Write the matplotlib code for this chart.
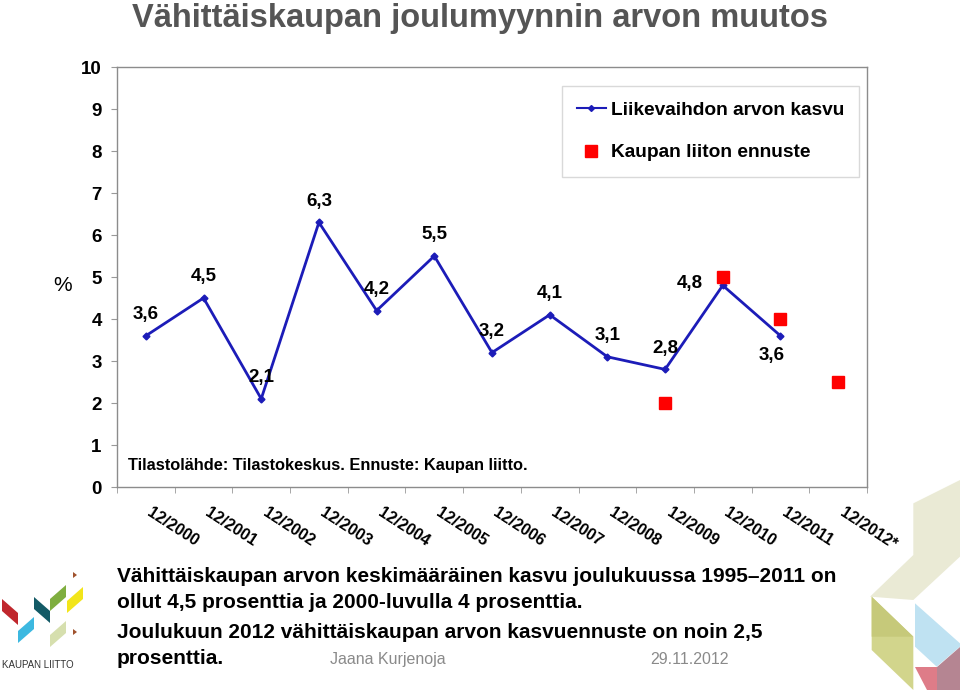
import matplotlib
matplotlib.use('Agg')
import matplotlib.pyplot as plt
from matplotlib.patches import Polygon
from matplotlib.lines import Line2D
from matplotlib import font_manager
import matplotlib.transforms as mtransforms

# ---------------- data ----------------
categories = ['12/2000', '12/2001', '12/2002', '12/2003', '12/2004', '12/2005',
              '12/2006', '12/2007', '12/2008', '12/2009', '12/2010', '12/2011',
              '12/2012*']
growth_cats = categories[:12]
growth = [3.6, 4.5, 2.1, 6.3, 4.2, 5.5, 3.2, 4.1, 3.1, 2.8, 4.8, 3.6]
growth_labels = ['3,6', '4,5', '2,1', '6,3', '4,2', '5,5', '3,2', '4,1', '3,1',
                 '2,8', '4,8', '3,6']
forecast_cats = ['12/2009', '12/2010', '12/2011', '12/2012*']
forecast = [2.0, 5.0, 4.0, 2.5]
yticks = [0, 1, 2, 3, 4, 5, 6, 7, 8, 9, 10]
series_names = ['Liikevaihdon arvon kasvu', 'Kaupan liiton ennuste']

title = 'Vähittäiskaupan joulumyynnin arvon muutos'
source = 'Tilastolähde: Tilastokeskus. Ennuste: Kaupan liitto.'
notes = ['Vähittäiskaupan arvon keskimääräinen kasvu joulukuussa 1995\u20132011 on',
         'ollut 4,5 prosenttia ja 2000-luvulla 4 prosenttia.',
         'Joulukuun 2012 vähittäiskaupan arvon kasvuennuste on noin 2,5',
         'prosenttia.']
author = 'Jaana Kurjenoja'
date = '29.11.2012'

# ---------------- style ----------------
names = {f.name for f in font_manager.fontManager.ttflist}
FONT = 'Liberation Sans' if 'Liberation Sans' in names else 'DejaVu Sans'
NARROW = 'Liberation Sans Narrow' if 'Liberation Sans Narrow' in names else FONT
plt.rcParams['font.family'] = [FONT, 'DejaVu Sans']

W, H = 960, 690
fig = plt.figure(figsize=(W / 100, H / 100), dpi=100)

# decoration layer (pixel coordinates, y downward)
deco = fig.add_axes([0, 0, 1, 1], zorder=0)
deco.set_xlim(0, W)
deco.set_ylim(H, 0)
deco.axis('off')


def zpoly(pts, color, x0=860, y0=480, s=3.0):
    deco.add_patch(Polygon([(x0 + x / s, y0 + y / s) for x, y in pts],
                           closed=True, facecolor=color, edgecolor='none'))


# right-hand decoration
zpoly([(160, 70), (300, 0), (300, 230), (160, 360), (30, 350), (160, 225)], '#eaead5')
zpoly([(35, 350), (160, 470), (160, 630), (35, 510)], '#d2d58c')
zpoly([(35, 350), (160, 470), (35, 470)], '#c6c97a')
zpoly([(165, 370), (300, 490), (300, 500), (230, 560), (165, 500)], '#bfe2f2')
zpoly([(300, 500), (300, 630), (230, 630), (230, 560)], '#b58592')
zpoly([(165, 560), (230, 560), (230, 630), (200, 630)], '#de7c88')


# logo (original pixel coords)
def para(cx, cy, w, L, s, color):
    pts = [(cx - w / 2, cy - s / 2 - L / 2), (cx + w / 2, cy + s / 2 - L / 2),
           (cx + w / 2, cy + s / 2 + L / 2), (cx - w / 2, cy - s / 2 + L / 2)]
    deco.add_patch(Polygon(pts, closed=True, facecolor=color, edgecolor='none'))


para(10, 612, 16, 12, 14, '#c0272d')
para(26, 630, 16, 12, -14, '#3cb8e0')
para(42, 610, 16, 12, 14, '#135a66')
para(58, 598, 16, 12, -14, '#7fae3f')
para(75, 600, 16, 12, -14, '#f2e51a')
para(58, 634, 16, 12, -14, '#d6dfae')
deco.add_patch(Polygon([(73, 572), (77, 575), (73, 578)], facecolor='#a0522d', edgecolor='none'))
deco.add_patch(Polygon([(73, 629), (77, 632), (73, 635)], facecolor='#a0522d', edgecolor='none'))
fig.text(2 / W, 1 - 668 / H, 'KAUPAN LIITTO', fontsize=7, color='#333333')

# ---------------- main chart ----------------
ax = fig.add_axes([117 / W, 1 - 487 / H, (867 - 117) / W, (487 - 67) / H], zorder=2)
ax.patch.set_alpha(0)
xpos = {c: i for i, c in enumerate(categories)}
gx = [xpos[c] for c in growth_cats]
fx = [xpos[c] for c in forecast_cats]

blue = '#1c1cb8'
ax.plot(gx, growth, color=blue, lw=2.0, marker='D', ms=3.5, zorder=3)
ax.plot(fx, forecast, linestyle='none', marker='s', ms=9, color='#ff0000',
        markeredgecolor='#ff0000', zorder=4)

offsets = [(0, 21)] * len(growth)
offsets[10] = (-33, 2)
offsets[11] = (-9, -20)
for x, y, lab, off in zip(gx, growth, growth_labels, offsets):
    ax.annotate(lab, (x, y), xytext=off, textcoords='offset pixels',
                ha='center', va='center', fontsize=13.5, fontweight='bold',
                color='black', zorder=5)

ax.set_xlim(-0.5, len(categories) - 0.5)
ax.set_ylim(0, 10)
ax.set_yticks(yticks)
ax.set_yticklabels([str(v) for v in yticks], fontsize=13.5, fontweight='bold')
ax.tick_params(axis='y', direction='out', length=4, color='#999999', pad=7)
ax.set_xticks(range(len(categories)))
ax.set_xticklabels(categories, rotation=-33, ha='left', va='top',
                   rotation_mode='anchor', fontsize=11.5, fontweight='bold')
ax.tick_params(axis='x', which='major', length=0, pad=13)
shift = mtransforms.ScaledTranslation(7 / 100, 0, fig.dpi_scale_trans)
for lbl in ax.get_xticklabels():
    lbl.set_transform(lbl.get_transform() + shift)
ax.set_xticks([i - 0.5 for i in range(len(categories) + 1)], minor=True)
ax.tick_params(axis='x', which='minor', direction='out', length=4, color='#999999')
for sp in ax.spines.values():
    sp.set_color('#8c8c8c')
    sp.set_linewidth(1.0)

handles = [Line2D([], [], color=blue, lw=1.5, marker='D', ms=3),
           Line2D([], [], linestyle='none', marker='s', ms=8, color='#ff0000')]
leg = fig.legend(handles, series_names, loc='center',
                 bbox_to_anchor=((566 + 855) / 2 / W, 1 - (83 + 180) / 2 / H),
                 prop={'size': 13.8, 'weight': 'bold'}, frameon=True, fancybox=False,
                 edgecolor='#d0d0d0', labelspacing=1.3, handlelength=1.5,
                 handletextpad=0.25, borderpad=0.8, borderaxespad=0)
leg.get_frame().set_linewidth(1.0)
leg.set_zorder(6)

# ---------------- texts ----------------
fig.text(480 / W, 1 - 27 / H, title, ha='center', va='baseline', fontsize=23.5,
         fontweight='bold', color='#555555', family=[NARROW, 'DejaVu Sans'])
fig.text(63 / W, 1 - 285 / H, '%', ha='center', va='center', fontsize=15, color='black')
fig.text(128 / W, 1 - 470 / H, source, ha='left', va='baseline', fontsize=11.8,
         fontweight='bold', color='black')

baselines = [582, 608, 638, 664]
for txt, yb in zip(notes, baselines):
    fig.text(117 / W, 1 - yb / H, txt, ha='left', va='baseline', fontsize=15,
             fontweight='bold', color='black')
fig.text(330 / W, 1 - 664 / H, author, ha='left', va='baseline', fontsize=11.5,
         color='#8a8a8a')
fig.text(650 / W, 1 - 664 / H, date, ha='left', va='baseline', fontsize=11.5,
         color='#8a8a8a')

fig.savefig('out.png', dpi=100)
